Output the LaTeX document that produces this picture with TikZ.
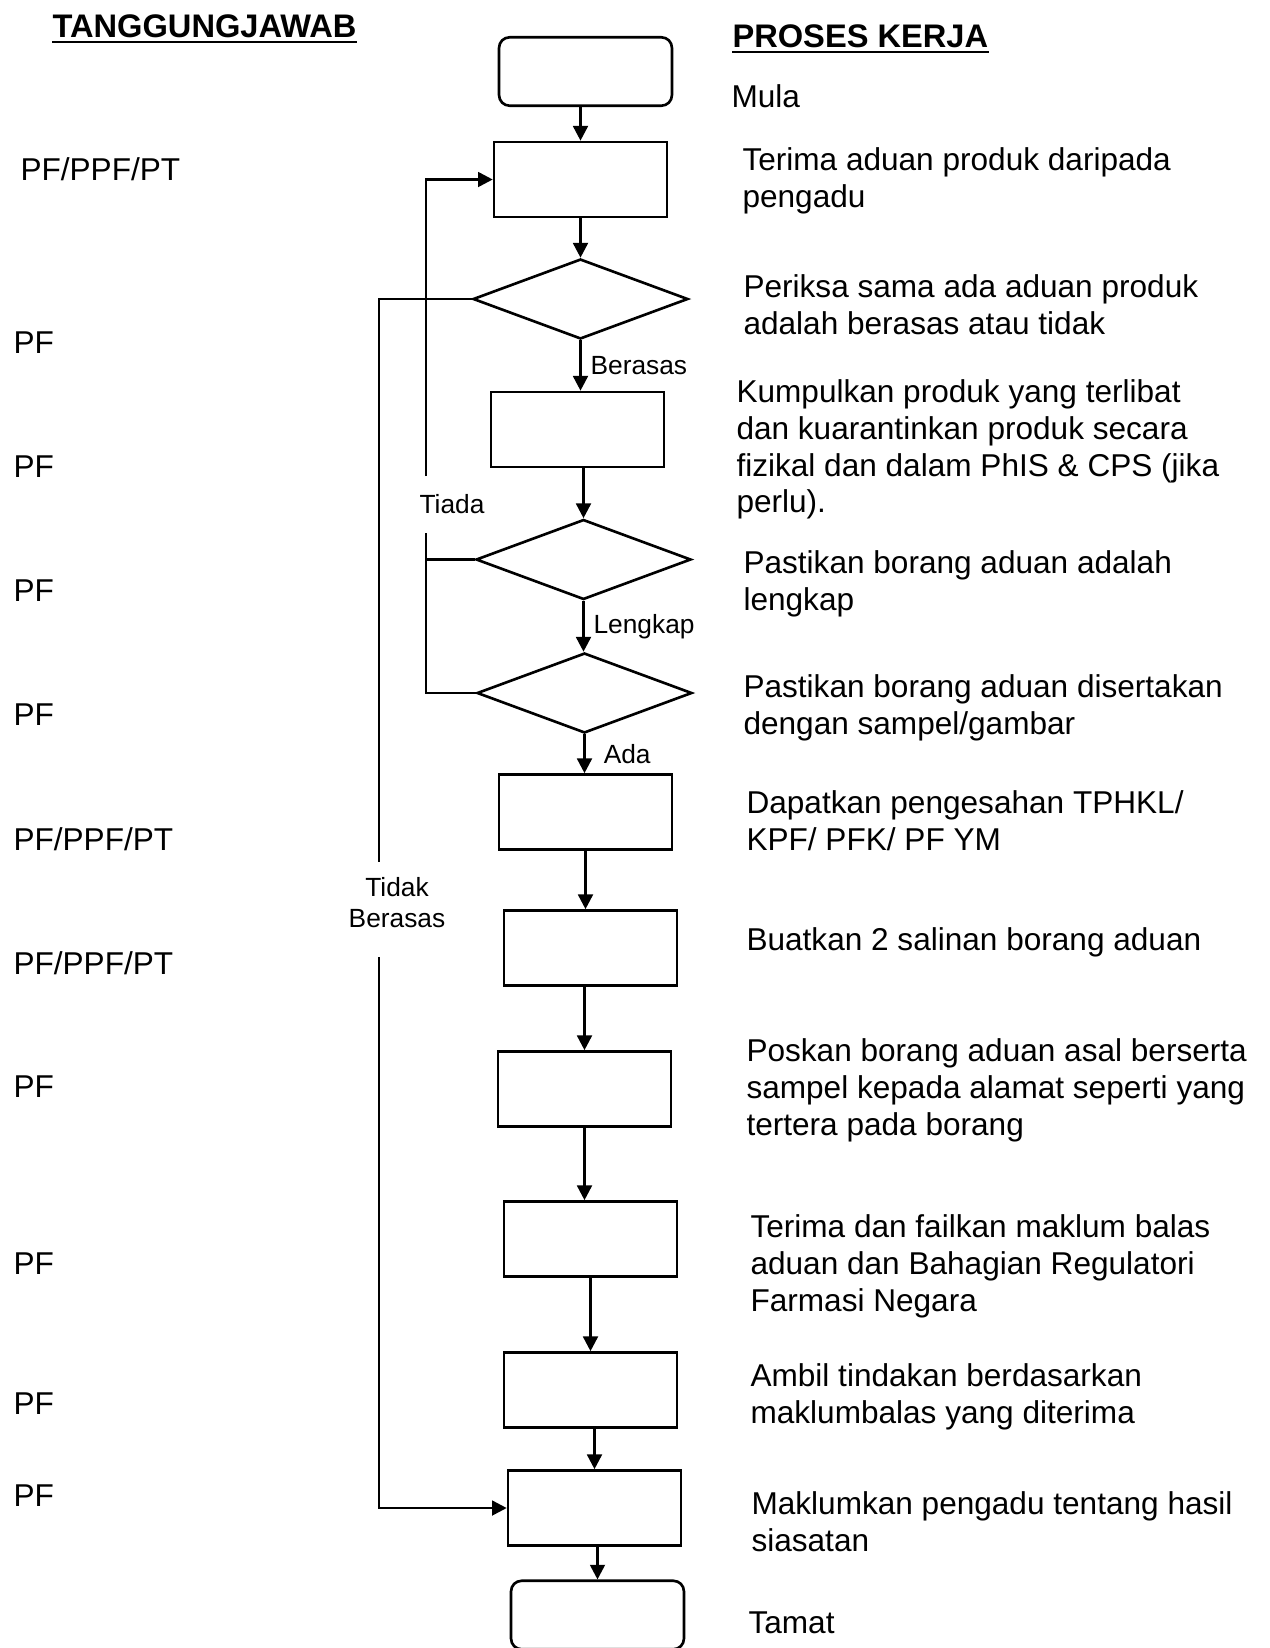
\documentclass[tikz,border=0pt]{standalone}
\usepackage{fontspec}
\setmainfont{Liberation Sans}
\usetikzlibrary{shapes.geometric,arrows.meta}

\tikzset{
  stepbox/.style={draw,line width=1pt,minimum width=65.7pt,minimum height=28.5pt,inner sep=0pt},
  endbox/.style={stepbox,rounded corners=4pt,minimum height=26pt},
  check/.style={draw,diamond,line width=1pt,minimum width=81.7pt,minimum height=30.4pt,inner sep=0pt},
  flow/.style={line width=1pt,->},
  link/.style={line width=1pt},
  desc/.style={anchor=north west,inner sep=0pt,align=left,font=\fontsize{12}{14}\selectfont},
  heading/.style={desc,anchor=base west,font=\bfseries\fontsize{12.4}{14}\selectfont},
  lbl/.style={font=\fontsize{10}{11.8}\selectfont},
}

\begin{document}
\begin{tikzpicture}[x=0.38pt,y=-0.38pt,>={Triangle[length=5.6pt,width=5.6pt]}]
  \useasboundingbox (0,0) rectangle (1270,1648);

  % tajuk
  \node[heading] (tajukKiri) at (52,37) {TANGGUNGJAWAB};
  \node[heading] (tajukKanan) at (732,47) {PROSES KERJA};
  \draw[line width=1pt] ([yshift=-1.9pt]tajukKiri.base west) -- ([yshift=-1.9pt]tajukKiri.base east);
  \draw[line width=1pt] ([yshift=-1.9pt]tajukKanan.base west) -- ([yshift=-1.9pt]tajukKanan.base east);

  % carta alir
  \node[endbox] (mula) at (585.5,71.5) {};
  \node[stepbox] (terima) at (580.5,179.5) {};
  \node[check] (asas) at (580.5,299) {};
  \node[stepbox] (kumpul) at (577.5,429.5) {};
  \node[check] (lengkap) at (583.5,559.5) {};
  \node[check] (sampel) at (584.5,693) {};
  \node[stepbox] (sahkan) at (585.5,812) {};
  \node[stepbox] (salin) at (590.5,948) {};
  \node[stepbox] (poskan) at (584.5,1089) {};
  \node[stepbox] (fail) at (590.5,1239) {};
  \node[stepbox] (tindak) at (590.5,1390) {};
  \node[stepbox] (maklum) at (594.5,1508) {};
  \node[endbox] (tamat) at (597.5,1615) {};

  \draw[flow] (mula.south -| terima.north) -- (terima.north);
  \draw[flow] (terima.south) -- (asas.north);
  \draw[flow] (asas.south) -- node[lbl,right]{Berasas} (asas.south |- kumpul.north);
  \draw[flow] (kumpul.south -| lengkap.north) -- (lengkap.north);
  \draw[flow] (lengkap.south) -- node[lbl,right]{Lengkap} (lengkap.south |- sampel.north);
  \draw[flow] (sampel.south) -- node[lbl,right,xshift=3.5pt]{Ada} (sampel.south |- sahkan.north);
  \draw[flow] (sahkan.south) -- (sahkan.south |- salin.north);
  \draw[flow] (salin.south -| poskan.north) -- (poskan.north);
  \draw[flow] (poskan.south) -- (poskan.south |- fail.north);
  \draw[flow] (fail.south) -- (fail.south |- tindak.north);
  \draw[flow] (tindak.south -| maklum.north) -- (maklum.north);
  \draw[flow] (maklum.south -| tamat.north) -- (tamat.north);

  % gelung balik
  \node[lbl] (tiada) at (452,504) {Tiada};
  \node[lbl,align=center] (tidak) at (397,903) {Tidak\\Berasas};
  \coordinate (tiadaAtas) at (426,476);
  \coordinate (tiadaBawah) at (426,533);
  \coordinate (tidakAtas) at (379,862);
  \coordinate (tidakBawah) at (379,957);
  \draw[link] (sampel.west) -| (tiadaBawah);
  \draw[link] (lengkap.west) -- (lengkap.west -| tiadaBawah);
  \draw[flow] (tiadaAtas) |- (terima.west);
  \draw[link] (asas.west) -| (tidakAtas);
  \draw[flow] (tidakBawah) |- (maklum.west);

  % proses kerja
  \node[desc] (pMula) at (731,84) {Mula};
  \node[desc] (pTerima) at (742,147) {Terima aduan produk daripada\\pengadu};
  \node[desc] (pPeriksa) at (743,274) {Periksa sama ada aduan produk\\adalah berasas atau tidak};
  \node[desc] (pKumpul) at (736,379) {Kumpulkan produk yang terlibat\\dan kuarantinkan produk secara\\fizikal dan dalam PhIS \& CPS (jika\\perlu).};
  \node[desc] (pLengkap) at (743,550) {Pastikan borang aduan adalah\\lengkap};
  \node[desc] (pSampel) at (743,674) {Pastikan borang aduan disertakan\\dengan sampel/gambar};
  \node[desc] (pSahkan) at (746,790) {Dapatkan pengesahan TPHKL/\\KPF/ PFK/ PF YM};
  \node[desc] (pSalin) at (746,927) {Buatkan 2 salinan borang aduan};
  \node[desc] (pPoskan) at (746,1038) {Poskan borang aduan asal berserta\\sampel kepada alamat seperti yang\\tertera pada borang};
  \node[desc] (pFail) at (750,1214) {Terima dan failkan maklum balas\\aduan dan Bahagian Regulatori\\Farmasi Negara};
  \node[desc] (pTindak) at (750,1363) {Ambil tindakan berdasarkan\\maklumbalas yang diterima};
  \node[desc] (pMaklum) at (751,1491) {Maklumkan pengadu tentang hasil\\siasatan};
  \node[desc] (pTamat) at (748,1611) {Tamat};

  % tanggungjawab
  \foreach \x/\y/\t [count=\i] in {20/157/{PF/PPF/PT},13/331/PF,13/455/PF,13/579/PF,13/703/PF,
      13/827/{PF/PPF/PT},13/951/{PF/PPF/PT},13/1075/PF,13/1252/PF,13/1392/PF,13/1484/PF}
    \node[desc] (siapa\i) at (\x,\y) {\t};
\end{tikzpicture}
\end{document}
